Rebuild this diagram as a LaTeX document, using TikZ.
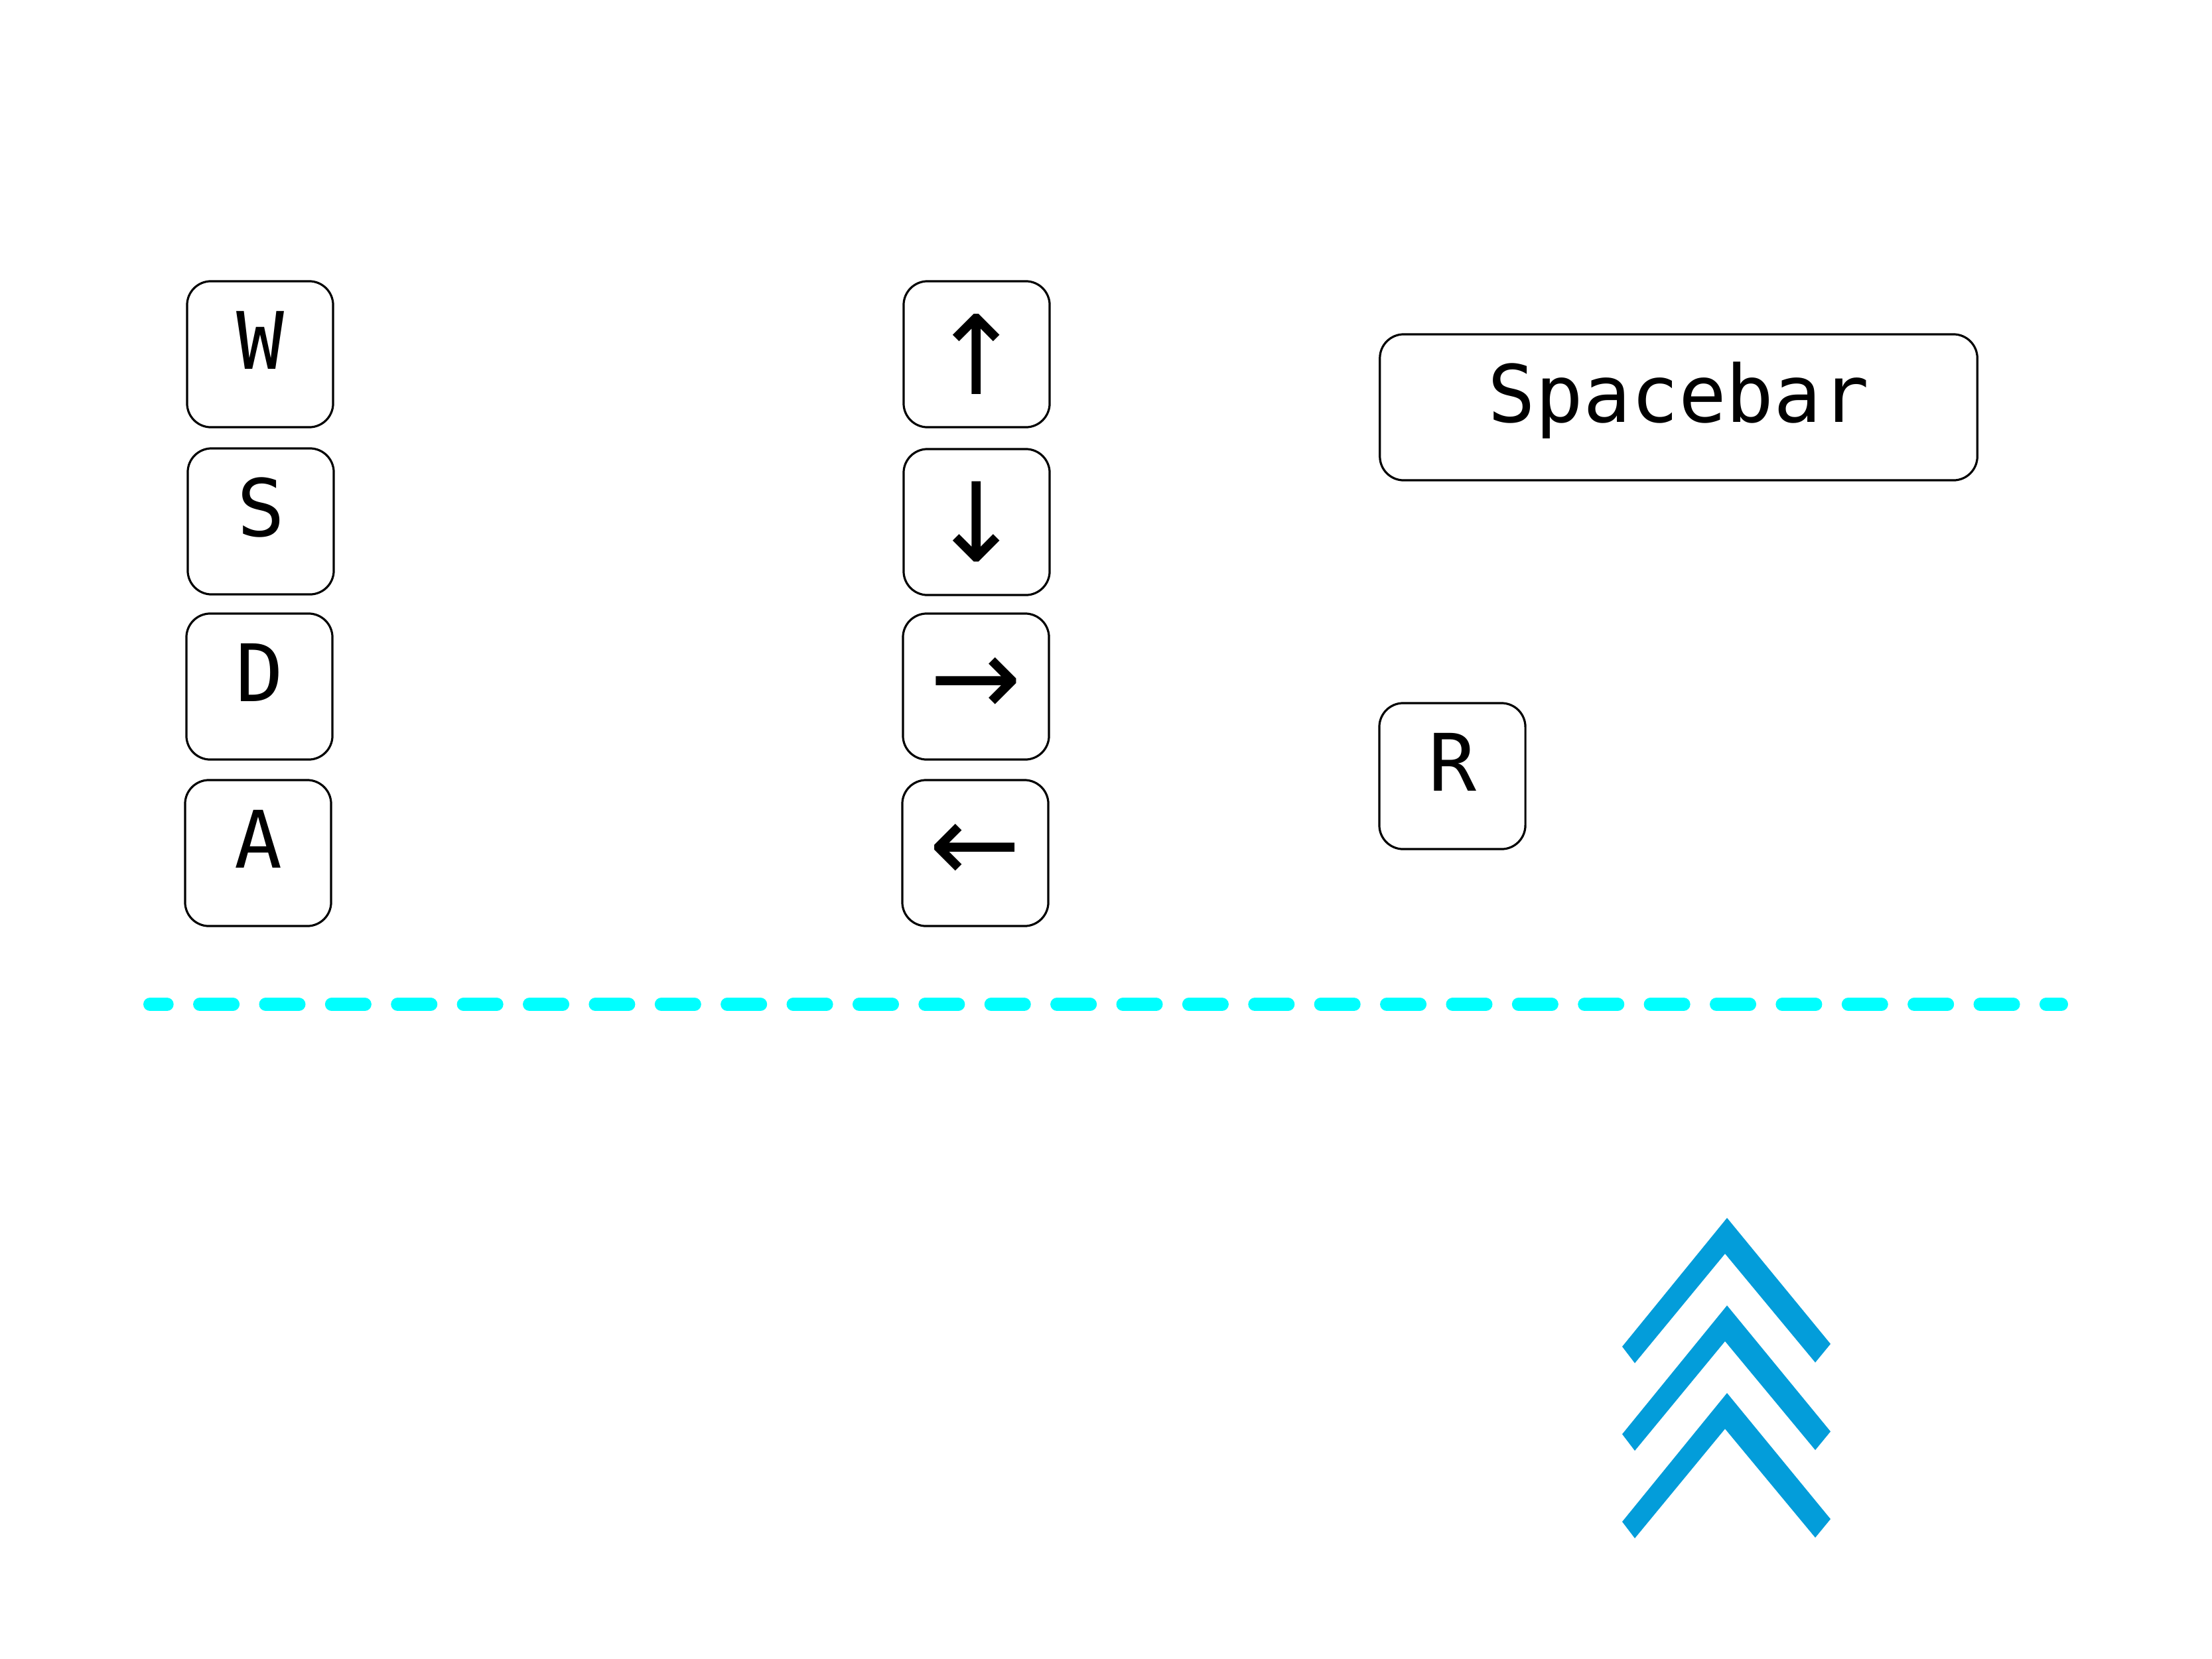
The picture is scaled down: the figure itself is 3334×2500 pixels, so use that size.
\documentclass[tikz,border=0pt]{standalone}
\usepackage{fontspec}
\setmonofont{DejaVu Sans Mono}
\newfontfamily\arrowfont{DejaVu Sans}
\definecolor{dashcyan}{RGB}{0,255,255}
\definecolor{chevblue}{RGB}{3,157,218}
\begin{document}
\begin{tikzpicture}[x=0.01cm,y=-0.01cm,
  keybox/.style={draw=black, fill=white, line width=0.032cm, rounded corners=0.36cm,
    minimum height=2.2cm, inner sep=0pt},
  keyletter/.style={keybox, minimum width=2.2cm,
    font=\ttfamily\fontsize{34}{34}\selectfont, text height=0.44cm, text depth=0pt},
  keywide/.style={keyletter, minimum width=9.0cm},
  keyarrow/.style={keybox, minimum width=2.2cm,
    font=\arrowfont\fontsize{47}{47}\selectfont},
  dashline/.style={draw=dashcyan, line width=0.2cm, line cap=round,
    dash pattern=on 0.5cm off 0.4933cm, dash phase=0.243cm},
  chevron/.style={fill=chevblue}
]
\fill[white] (0,0) rectangle (3334,2500);
\useasboundingbox (0,0) rectangle (3334,2500);

% WSDA column
\node[keyletter] (w) at (392,534) {W};
\node[keyletter] (s) at (393,786) {S};
\node[keyletter] (d) at (391,1035) {D};
\node[keyletter] (a) at (389,1286) {A};

% arrow column
\node[keyarrow] (up)    at (1472,534)  {↑};
\node[keyarrow] (down)  at (1472,787)  {↓};
\node[keyarrow] (right) at (1471,1035) {→};
\node[keyarrow] (left)  at (1470,1286) {←};

% right side keys
\node[keywide] (space) at (2530,614) {Spacebar};
\node[keyletter] (r) at (2189,1170) {R};

% dashed separator
\coordinate (dl) at (226,1514);
\coordinate (dr) at (3107,1514);
\draw[dashline] (dl) -- (dr);

% chevrons
\foreach \dy in {0,132,264}{
  \fill[chevron] (2603,1836+\dy) -- (2759,2026+\dy) -- (2736,2054+\dy) -- (2600,1890+\dy)
    -- (2464,2055+\dy) -- (2445,2030+\dy) -- cycle;
}
\end{tikzpicture}
\end{document}
